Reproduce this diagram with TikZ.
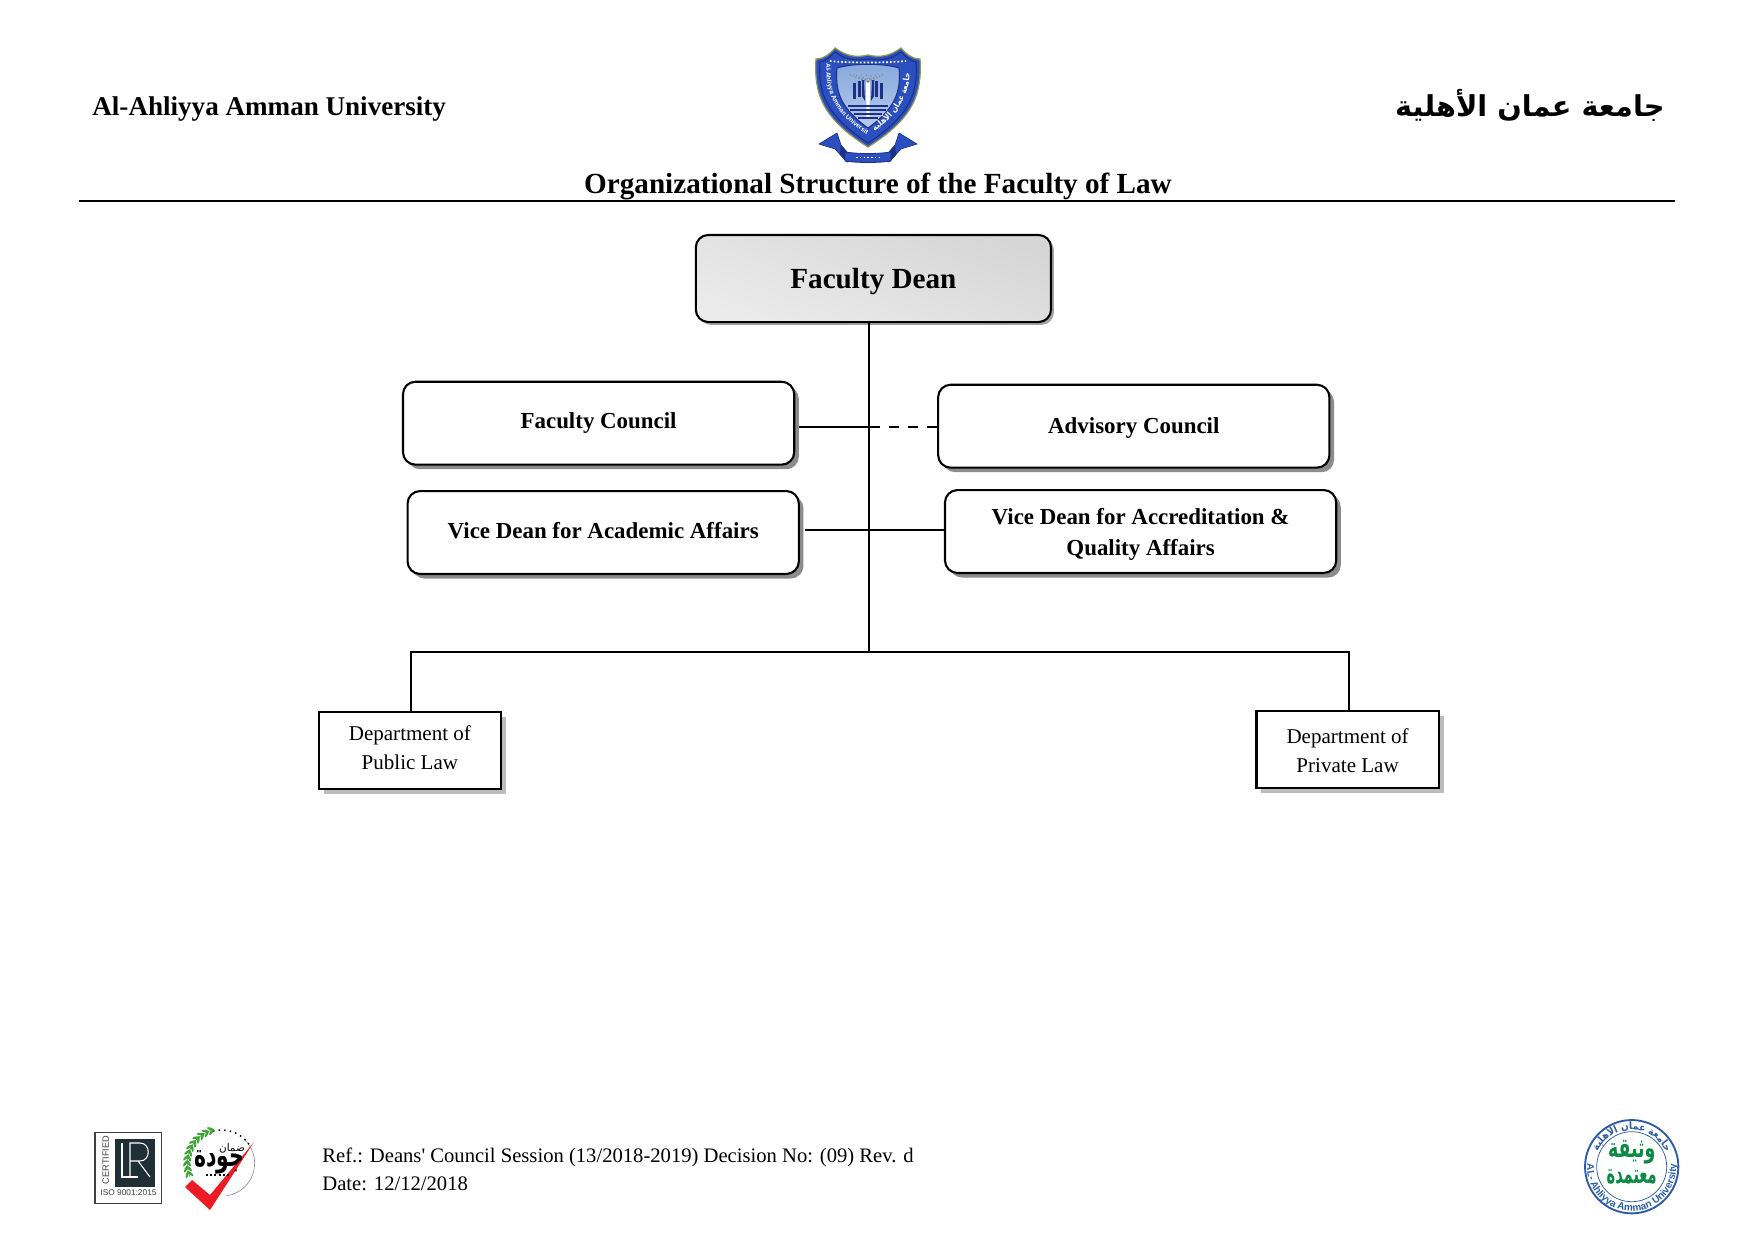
\documentclass[tikz,border=0pt]{standalone}
\usepackage{fontspec}
\setmainfont{Liberation Serif}
\newfontfamily\arabicfont[Script=Arabic]{DejaVu Sans}
\newfontfamily\arabicforms{DejaVu Sans Condensed}
\newfontfamily\logofont{Liberation Sans}
\TeXXeTstate=1
\usetikzlibrary{shadows,decorations.text}

\definecolor{deanshadow}{HTML}{A6A6A6}
\definecolor{boxshadow}{HTML}{8C8C8C}
\definecolor{deptshadow}{HTML}{BDBDBD}
\definecolor{crestblue}{HTML}{2B4FBE}
\definecolor{crestdark}{HTML}{1D2F86}
\definecolor{crestgold}{HTML}{8F9A50}
\definecolor{crestsky}{HTML}{86A9DC}
\definecolor{lrdark}{HTML}{1F2F36}
\definecolor{checkred}{HTML}{ED1C24}
\definecolor{leafgreen}{HTML}{3FA535}
\definecolor{sealblue}{HTML}{2A5CA8}
\definecolor{sealgreen}{HTML}{0B8A45}

\newcommand{\sealfont}{\arabicforms\bfseries\fontsize{4.9}{6}\selectfont}
\newcommand{\seallatin}{\logofont\bfseries\fontsize{4.8}{5}\selectfont}
\newcommand{\crestlatin}{\logofont\bfseries\fontsize{3.1}{4}\selectfont}
\newcommand{\crestarabic}{\arabicforms\bfseries\fontsize{4}{5}\selectfont}
\newcommand{\ahliyyaforms}{^^^^fe94^^^^fef4^^^^fee0^^^^feeb^^^^fef7^^^^fe8d ^^^^fee5^^^^fe8e^^^^fee4^^^^fecb ^^^^fe94^^^^fecc^^^^fee3^^^^fe8e^^^^fe9f}
\newcommand{\pushtext}[1]{\rule{0pt}{#1}}
\newcommand{\lifttext}[1]{\rule[-#1]{0pt}{#1}}

\tikzset{
  deanbox/.style={draw=black, line width=1pt, rounded corners=6pt, minimum width=170.5pt, minimum height=41.8pt,
    top color=black!16, middle color=black!16, bottom color=black!8, shading angle=-20,
    general shadow={shadow xshift=1.4pt, shadow yshift=-1.4pt, fill=deanshadow},
    text height=11pt, text depth=1.1pt, font=\bfseries\fontsize{14}{16}\selectfont},
  councilbox/.style={draw=black, fill=white, line width=1pt, rounded corners=6pt, minimum width=187.8pt, minimum height=39.8pt,
    general shadow={shadow xshift=2.2pt, shadow yshift=-2.2pt, fill=boxshadow},
    align=center, font=\bfseries\fontsize{11}{15}\selectfont},
  deptbox/.style={draw=black, fill=white, line width=1pt, minimum width=87.5pt, minimum height=36.8pt,
    general shadow={shadow xshift=2.4pt, shadow yshift=-2.4pt, fill=deptshadow},
    align=center, font=\fontsize{10.1}{13.6}\selectfont},
  connector/.style={draw=black, line width=0.85pt},
  plaintext/.style={inner sep=0pt, anchor=base west},
  crestcol/.style={fill=crestdark, draw=none}
}

\begin{document}
\begin{tikzpicture}[x=0.48pt, y=-0.48pt]
    \useasboundingbox (0,0) rectangle (1755,1241);

    % header
    \node[plaintext, font=\bfseries\fontsize{13}{15}\selectfont] (uni) at (92,115.5) {Al-Ahliyya Amman University};
    \node[inner sep=0pt, anchor=base east, font=\arabicfont\bfseries\fontsize{13.8}{16}\selectfont] (uniar) at (1665,116.5) {\beginR جامعة عمان الأهلية\endR};
    \node[inner sep=0pt, anchor=base, font=\bfseries\fontsize{14}{16}\selectfont] (title) at (878,193.5) {Organizational Structure of the Faculty of Law};
    \coordinate (ruleleft) at (78.5,201);
    \coordinate (ruleright) at (1675,201);
    \draw[black, line width=1.3pt] (ruleleft) -- (ruleright);

    % crest
    \begin{scope}[shift={(868,46)}]
        \foreach \s in {1,-1} {
            \begin{scope}[xscale=\s]
                \fill[crestblue, draw=crestdark, line width=0.3pt] (-49,98) -- (-31,87) -- (-27,99) -- (-21,106) -- (-21,116) -- (-33,103) -- cycle;
                \fill[crestdark] (-21,106) -- (-27,99) -- (-28,109) -- (-21,116) -- cycle;
            \end{scope}
        }
        \fill[crestblue, draw=crestdark, line width=0.4pt] (-23,106) .. controls (-10,108) and (10,108) .. (23,106) -- (23,115) .. controls (10,117) and (-10,117) .. (-23,115) -- cycle;
        \draw[white, line width=0.8pt, densely dotted] (-12,111.5) -- (12,111.5);
        % shield
        \fill[crestblue, draw=crestgold, line width=0.6pt] (-52,13) .. controls (-44,13) and (-38,8) .. (-33,2)
            .. controls (-22,10) and (-12,12) .. (0,9) .. controls (12,12) and (22,10) .. (33,2)
            .. controls (38,8) and (44,13) .. (52,13) .. controls (54,48) and (46,72) .. (0,101)
            .. controls (-46,72) and (-54,48) .. (-52,13) -- cycle;
        \draw[crestdark, line width=0.5pt] (-48,16) .. controls (-42,15) and (-38,11) .. (-33,6)
            .. controls (-22,14) and (-12,15) .. (0,13) .. controls (12,15) and (22,14) .. (33,6)
            .. controls (38,11) and (42,15) .. (48,16) .. controls (50,46) and (43,69) .. (0,97)
            .. controls (-43,69) and (-50,46) .. (-48,16) -- cycle;
        \shade[top color=crestsky, middle color=black!4, bottom color=crestsky!60, draw=crestdark, line width=0.5pt] (-31,22) .. controls (-15,17) and (15,17) .. (31,22)
            .. controls (33,45) and (28,62) .. (0,82) .. controls (-28,62) and (-33,45) .. (-31,22) -- cycle;
        \draw[white, line width=0.8pt, densely dotted] (-38,15) .. controls (-20,17) and (20,17) .. (38,15);
        \foreach \colx/\coltop in {-15/37,-10/35,7/35,12/37} {
            \fill[crestcol] (\colx,\coltop) rectangle ++(3,16);
        }
        \fill[white] (-2,36) -- (2,36) -- (1.5,72) -- (-1.5,72) -- cycle;
        \fill[crestcol] (-4,34) -- (-3,55) -- (-6,50) -- (-6,34) -- cycle;
        \fill[crestcol] (4,34) -- (3,55) -- (6,50) -- (6,34) -- cycle;
        \foreach \fanx in {-20,-14,-8,-2,4,10,16} {
            \draw[gray, line width=0.5pt, densely dotted] (0,36) -- (\fanx,28);
        }
        \foreach \watery/\waterw in {60/20,64/18,68/14,72/10} {
            \draw[crestdark, line width=0.6pt] (-\waterw,\watery) -- (\waterw,\watery);
        }
        \path[decorate, decoration={text along path, text align=center, text={|\color{white}\crestlatin|Al-Ahliyya Amman University}}]
            (-42,22) .. controls (-42,50) and (-30,70) .. (-2,88);
        \path[decorate, decoration={text along path, text align=center, text={|\color{white}\crestarabic|\ahliyyaforms}}]
            (2,88) .. controls (30,70) and (42,50) .. (42,22);
    \end{scope}

    % boxes
    \node[deanbox] (dean) at (873.4,278.5) {Faculty Dean};
    \node[councilbox] (council) at (598.6,423.2) {Faculty Council};
    \node[councilbox] (advisory) at (1133.8,426.2) {\pushtext{9.6pt}Advisory Council};
    \node[councilbox] (academic) at (603.2,532.5) {Vice Dean for Academic Affairs\lifttext{1.7pt}};
    \node[councilbox] (quality) at (1140.6,531.5) {\pushtext{10.6pt}Vice Dean for Accreditation \&\\Quality Affairs};
    \node[deptbox] (public) at (409.9,750.3) {Department of\\Public Law\lifttext{2.7pt}};
    \node[deptbox] (private) at (1347.6,749.3) {\pushtext{8.4pt}Department of\\Private Law};

    % connectors
    \coordinate (busjoin) at (868.8,652);
    \coordinate (busleft) at (411,652);
    \coordinate (busright) at (1349,652);
    \coordinate (councilrow) at (868.8,427);
    \coordinate (viderow) at (868.8,530);
    \draw[connector] (dean.south -| busjoin) -- (busjoin);
    \draw[connector] (public.north -| busleft) -- (busleft) -- (busright) -- (private.north -| busright);
    \draw[connector, shorten <=1.7pt] (council.east |- councilrow) -- (councilrow);
    \draw[connector, dash pattern=on 4.8pt off 4.3pt] (councilrow -| advisory.west) -- (councilrow);
    \draw[connector, shorten <=2.3pt] (academic.east |- viderow) -- (viderow);
    \draw[connector] (viderow) -- (viderow -| quality.west);

    % footer
    \node[plaintext, font=\fontsize{9.9}{12}\selectfont] (ref) at (322,1162.7) {Ref.: Deans\textquotesingle{} Council Session (13/2018-2019) Decision No: (09) Rev. d};
    \node[plaintext, font=\fontsize{9.9}{12}\selectfont] (date) at (322,1190.7) {Date: 12/12/2018};

    % LR mark
    \draw[black!75, line width=0.7pt] (95,1132.5) rectangle (161.7,1203.5);
    \fill[lrdark] (115,1138.8) rectangle (154.7,1186.5);
    \draw[white, line width=0.5pt] (122,1143) -- (122,1177) -- (138,1177);
    \draw[white, line width=0.5pt] (130,1177) -- (130,1143) -- (140,1143) .. controls (151,1143) and (151,1161) .. (140,1161) -- (130,1161);
    \draw[white, line width=0.5pt] (138,1161) -- (150,1177);
    \node[inner sep=0pt, rotate=90, text=black!75, font=\logofont\fontsize{4.4}{5}\selectfont] (certified) at (105.7,1160) {CERTIFIED};
    \node[inner sep=0pt, text=black!75, font=\logofont\fontsize{4}{5}\selectfont] (iso) at (128.5,1193) {ISO 9001:2015};

    % quality mark
    \coordinate (quality centre) at (221.7,1163.3);
    \draw[black!45, line width=0.3pt] (quality centre) ++(45:15.8pt) arc[start angle=45, end angle=-82, radius=15.8pt];
    \draw[black, line width=0.7pt, dotted] (quality centre) ++(105:16pt) arc[start angle=105, end angle=35, radius=16pt];
    \foreach \ang in {108,117,...,203} {
        \fill[leafgreen, shift={(quality centre)}, rotate=\ang, shift={(17.4pt,0)}, rotate=55] (0,0) ellipse[x radius=1.8pt, y radius=0.6pt];
        \fill[leafgreen, shift={(quality centre)}, rotate=\ang, shift={(15.8pt,0)}, rotate=-55] (0,0) ellipse[x radius=1.8pt, y radius=0.6pt];
    }
    \draw[leafgreen, line width=0.3pt] (quality centre) ++(108:16.6pt) arc[start angle=108, end angle=204, radius=16.6pt];
    \fill[checkred] (185,1187) -- (192,1180) -- (210,1195) -- (254,1142) -- (210,1210) -- cycle;
    \node[inner sep=0pt, xscale=0.65, transform shape, font=\arabicfont\bfseries\fontsize{15}{16}\selectfont, text=black] (jawda) at (219,1162) {\beginR جودة\endR};
    \node[inner sep=0pt, font=\arabicfont\fontsize{5}{6}\selectfont, text=black] (daman) at (232,1148) {\beginR ضمان\endR};
    \draw[black, line width=1pt, densely dotted] (206,1175) -- (230,1175);

    % seal
    \coordinate (seal centre) at (1631.7,1166.7);
    \draw[sealblue, line width=0.9pt] (seal centre) circle[radius=22.4pt];
    \draw[sealblue, line width=0.35pt] (seal centre) circle[radius=16.8pt];
    \path[decorate, decoration={text along path, text align=center, text={|\color{sealblue}\sealfont|\ahliyyaforms}}]
        (seal centre) ++(172:17.8pt) arc[start angle=172, end angle=8, radius=17.8pt];
    \path[decorate, decoration={text along path, text align=center, text={|\color{sealblue}\seallatin|AL- Ahliyya Amman University}}]
        (seal centre) ++(175:21.4pt) arc[start angle=175, end angle=365, radius=21.4pt];
    \node[inner sep=0pt, text=sealgreen, xscale=0.64, transform shape, font=\arabicfont\bfseries\fontsize{13}{14}\selectfont] (wathiqa) at (1631.7,1152) {\beginR وثيقة\endR};
    \node[inner sep=0pt, text=sealgreen, xscale=0.54, transform shape, font=\arabicfont\bfseries\fontsize{13}{14}\selectfont] (mutamada) at (1631.7,1177) {\beginR معتمدة\endR};
\end{tikzpicture}
\end{document}
